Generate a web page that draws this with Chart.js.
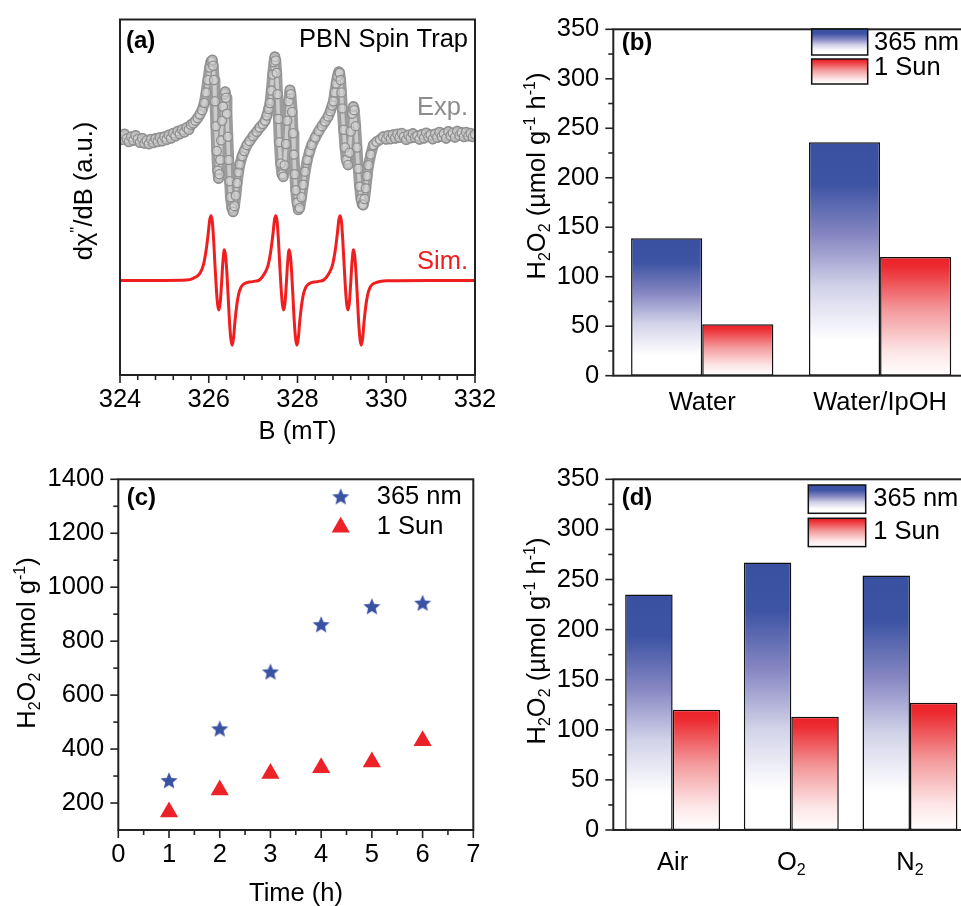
<!DOCTYPE html>
<html><head><meta charset="utf-8">
<script src="https://cdn.jsdelivr.net/npm/chart.js@4.4.0/dist/chart.umd.min.js"></script>
<style>
html,body{margin:0;padding:0;background:#fff;overflow:hidden;width:961px;height:906px;}
#wrap{position:relative;width:961px;height:906px;overflow:hidden;background:#fff;}
canvas{position:absolute;}
</style></head><body>
<div id="wrap">
<canvas id="ca" width="530" height="450" style="left:0;top:0"></canvas>
<canvas id="cc" width="530" height="456" style="left:0;top:450px"></canvas>
<canvas id="cb" width="500" height="450" style="left:480px;top:0"></canvas>
<canvas id="cd" width="500" height="456" style="left:480px;top:450px"></canvas>
</div>
<script>
// ---------------- DATA ----------------
// (a) EPR spectrum, B (mT) vs derivative intensity (a.u.)
const eprExp = [
[324.00,67.3],[324.05,66.2],[324.10,67.8],[324.15,66.5],[324.20,65.6],[324.25,67.0],[324.30,66.0],[324.35,67.4],
[324.40,66.3],[324.45,65.4],[324.50,66.6],[324.55,65.2],[324.60,66.0],[324.65,65.0],[324.70,66.3],[324.75,65.3],
[324.80,66.5],[324.85,65.6],[324.90,66.8],[324.95,65.8],[325.00,67.0],[325.05,66.2],[325.10,67.5],[325.15,66.6],
[325.20,68.0],[325.25,67.2],[325.30,68.6],[325.35,67.8],[325.40,69.0],[325.45,68.3],[325.50,69.6],[325.55,69.0],
[325.60,70.4],[325.65,70.8],[325.70,71.5],[325.75,72.3],[325.80,73.3],[325.85,74.5],[325.90,76.5],[325.94,79.5],
[325.98,83.0],[326.02,86.5],[326.05,88.2],[326.08,88.6],[326.10,87.0],[326.12,83.0],[326.14,77.0],[326.16,70.0],
[326.18,63.0],[326.20,57.5],[326.22,55.3],[326.24,56.5],[326.26,60.5],[326.28,66.0],[326.30,71.5],[326.32,75.5],
[326.35,79.0],[326.37,79.7],[326.39,78.0],[326.41,73.5],[326.43,67.0],[326.45,60.5],[326.47,54.5],[326.49,50.0],
[326.52,47.0],[326.55,45.9],[326.58,47.5],[326.61,50.5],[326.64,54.0],[326.67,57.0],[326.70,59.2],[326.75,61.5],
[326.80,63.0],[326.86,64.7],[326.92,65.8],[327.00,67.2],[327.08,68.4],[327.15,69.6],[327.22,70.6],[327.27,71.5],
[327.31,73.0],[327.35,74.8],[327.38,76.5],[327.41,80.0],[327.44,84.5],[327.47,88.0],[327.49,89.5],[327.51,88.5],
[327.53,85.0],[327.55,79.0],[327.57,72.0],[327.59,65.5],[327.62,59.5],[327.65,56.5],[327.68,55.8],[327.71,59.0],
[327.74,65.0],[327.77,71.5],[327.80,77.0],[327.83,80.2],[327.85,79.0],[327.88,74.0],[327.90,68.0],[327.92,62.0],
[327.94,56.5],[327.96,52.0],[327.99,48.5],[328.02,46.5],[328.05,47.0],[328.09,50.0],[328.13,53.5],[328.17,57.2],
[328.22,60.5],[328.27,62.8],[328.32,64.7],[328.40,66.8],[328.48,68.6],[328.55,70.0],[328.62,71.3],[328.69,72.7],
[328.74,74.2],[328.78,75.8],[328.81,77.0],[328.84,79.5],[328.87,82.0],[328.90,84.0],[328.93,85.3],[328.95,85.0],
[328.97,83.0],[328.99,79.5],[329.01,75.0],[329.04,69.0],[329.07,64.0],[329.10,60.5],[329.14,59.1],[329.17,62.5],
[329.20,68.5],[329.23,73.5],[329.26,75.5],[329.28,74.5],[329.31,70.0],[329.34,64.0],[329.37,58.0],[329.40,53.0],
[329.43,49.5],[329.46,48.0],[329.48,47.8],[329.51,49.5],[329.54,52.5],[329.57,56.0],[329.60,59.0],[329.65,62.0],
[329.71,64.7],[329.78,65.6],[329.86,66.2],[329.93,67.0],[330.00,66.3],[330.05,67.4],[330.10,66.4],[330.15,67.6],
[330.20,66.6],[330.25,67.8],[330.30,66.8],[330.35,68.0],[330.40,67.0],[330.45,66.2],[330.50,67.5],[330.55,66.7],
[330.60,67.9],[330.65,66.8],[330.70,67.3],[330.75,66.3],[330.80,67.7],[330.85,66.6],[330.90,68.1],[330.95,67.0],
[331.00,67.6],[331.05,66.4],[331.10,67.8],[331.15,66.8],[331.20,68.3],[331.25,67.1],[331.30,67.9],[331.35,66.6],
[331.40,68.5],[331.45,67.3],[331.50,68.1],[331.55,66.9],[331.60,68.6],[331.65,67.4],[331.70,68.2],[331.75,67.0],
[331.80,68.3],[331.85,67.2],[331.90,68.0],[331.95,67.0],[332.00,67.7]
];
const eprSim = [
[324.00,26.6],[325.00,26.6],[325.50,26.7],[325.65,27.2],[325.80,28.6],[325.88,31.0],[325.94,35.0],[325.99,40.0],
[326.02,43.5],[326.05,44.8],[326.08,43.2],[326.11,38.0],[326.14,31.0],[326.17,24.5],[326.20,19.8],[326.23,18.3],
[326.26,20.5],[326.29,26.0],[326.32,32.0],[326.35,35.2],[326.38,33.5],[326.41,28.5],[326.44,21.5],[326.47,14.5],
[326.50,10.0],[326.53,8.4],[326.56,10.5],[326.59,15.0],[326.63,19.5],[326.67,22.5],[326.72,24.5],[326.78,25.5],
[326.86,26.0],[326.95,26.2],[327.05,26.4],[327.15,26.8],[327.26,28.6],[327.34,31.0],[327.40,35.0],[327.45,40.0],
[327.48,43.5],[327.51,44.8],[327.54,43.2],[327.57,38.0],[327.60,31.0],[327.63,24.5],[327.66,19.8],[327.69,18.3],
[327.72,20.5],[327.75,26.0],[327.78,32.0],[327.81,35.2],[327.84,33.5],[327.87,28.5],[327.90,21.5],[327.93,14.5],
[327.96,10.0],[327.99,8.4],[328.02,10.5],[328.05,15.0],[328.09,19.5],[328.13,22.5],[328.18,24.5],[328.24,25.5],
[328.32,26.0],[328.41,26.2],[328.50,26.4],[328.60,26.8],[328.71,28.6],[328.79,31.0],[328.85,35.0],[328.90,40.0],
[328.93,43.5],[328.96,44.8],[328.99,43.2],[329.02,38.0],[329.05,31.0],[329.08,24.5],[329.11,19.8],[329.14,18.3],
[329.17,20.5],[329.20,26.0],[329.23,32.0],[329.26,35.2],[329.29,33.5],[329.32,28.5],[329.35,21.5],[329.38,14.5],
[329.41,10.0],[329.44,8.4],[329.47,10.5],[329.50,15.0],[329.54,19.5],[329.58,22.5],[329.63,24.5],[329.69,25.5],
[329.77,26.0],[329.86,26.3],[330.00,26.5],[331.00,26.6],[332.00,26.6]
];
const aTicksX = [324,326,328,330,332];

// series names
const seriesLabels = ['365 nm','1 Sun'];

// (b) solvents
const solventCats = ['Water','Water/IpOH'];
const solvent365 = [139,236];
const solventSun = [52,120];

// (c) time course
const timeH = [1,2,3,4,5,6];
const cum365 = [281,473,684,859,926,939];
const cumSun = [167,248,309,331,352,431];
const cTicksX = [0,1,2,3,4,5,6,7];
const cTicksY = [200,400,600,800,1000,1200,1400];

// (d) atmospheres
const gasCats = ['Air','O_{2}','N_{2}'];
const gas365 = [235,267,254];
const gasSun = [120,113,127];
const barTicksY = [0,50,100,150,200,250,300,350];

// ---------------- STYLE ----------------
const FAM = '"Liberation Sans", Arial, Helvetica, sans-serif';
const FS = 25.5;
Chart.defaults.font.family = FAM;
Chart.defaults.font.size = FS;
Chart.defaults.color = '#000';
Chart.defaults.animation = false;
Chart.defaults.responsive = false;
Chart.defaults.devicePixelRatio = 1;
Chart.defaults.plugins.legend.display = false;
Chart.defaults.plugins.tooltip.enabled = false;

const BLUE = '#3a52a3', RED = '#ec2228';
const blueStops = [[0,'#3a51a2'],[0.18,'#3d54a4'],[0.4,'#8687c2'],[0.62,'#d2d2e9'],[0.85,'#ffffff'],[1,'#ffffff']];
const redStops = [[0,'#ec2228'],[0.08,'#ec2a30'],[0.45,'#f39a9c'],[0.8,'#fde6e7'],[1,'#ffffff']];

function barGrad(stops){
  return (c) => {
    const ch = c.chart;
    if (!ch.chartArea || c.raw == null) return stops[0][1];
    const ys = ch.scales.y;
    const top = ys.getPixelForValue(c.raw), base = ys.getPixelForValue(0);
    const g = ch.ctx.createLinearGradient(0, top, 0, base);
    stops.forEach(s => g.addColorStop(s[0], s[1]));
    return g;
  };
}

function parseRich(str){
  const out=[]; const re=/([_^])\{([^}]*)\}/g; let last=0,m;
  while((m=re.exec(str))){
    if(m.index>last) out.push({t:str.slice(last,m.index),k:0});
    out.push({t:m[2],k:m[1]==='_'?1:2}); last=re.lastIndex;
  }
  if(last<str.length) out.push({t:str.slice(last),k:0});
  return out;
}
function drawRich(ctx, str, x, y, o){
  o = o || {};
  const size=o.size||FS, weight=o.weight||'normal', color=o.color||'#000', align=o.align||'center';
  const segs=parseRich(str);
  const fontFor=k=>`${weight} ${k? Math.round(size*0.62):size}px ${FAM}`;
  let w=0; segs.forEach(s=>{ctx.font=fontFor(s.k); s.w=ctx.measureText(s.t).width; w+=s.w;});
  ctx.save(); ctx.translate(x,y); if(o.rotate) ctx.rotate(o.rotate);
  let cx = align==='left'?0: align==='right'? -w : -w/2;
  ctx.fillStyle=color; ctx.textBaseline='middle'; ctx.textAlign='left';
  segs.forEach(s=>{ ctx.font=fontFor(s.k); const dy = s.k===1? size*0.3 : s.k===2? -size*0.3 : 0; ctx.fillText(s.t, cx, dy); cx+=s.w; });
  ctx.restore();
}

function makeStar(r, color){
  const c=document.createElement('canvas'); const s=Math.ceil(r*2+2); c.width=c.height=s;
  const g=c.getContext('2d'); g.fillStyle=color; g.beginPath();
  for(let i=0;i<10;i++){ const rr = i%2? r*0.45 : r; const a=-Math.PI/2+i*Math.PI/5; g.lineTo(s/2+rr*Math.cos(a), s/2+rr*Math.sin(a)); }
  g.closePath(); g.fill(); return c;
}
const starImg = makeStar(9, BLUE);

function minorBetween(major, n){
  const out=[];
  for(let i=0;i<major.length-1;i++){ const a=major[i], b=major[i+1]; for(let k=1;k<n;k++) out.push(a+(b-a)*k/n); }
  return out;
}

// --------------- decoration plugin -----------------
const decoCfg = {};
const decoPlugin = {
  id:'deco',
  afterDraw(chart){
    const cfg = decoCfg[chart.canvas.id]; if(!cfg) return;
    const ctx = chart.ctx, ca = chart.chartArea;
    const xs = chart.scales.x, ys = chart.scales.y;
    ctx.save();
    ctx.strokeStyle = '#222'; ctx.lineCap='butt';
    const tk = (scale, vals, len, horiz) => {
      vals.forEach(v => {
        const p = scale.getPixelForValue(v);
        ctx.beginPath();
        if (horiz) { ctx.moveTo(p, ca.bottom); ctx.lineTo(p, ca.bottom+len); }
        else { ctx.moveTo(ca.left, p); ctx.lineTo(ca.left-len, p); }
        ctx.stroke();
      });
    };
    ctx.lineWidth = 1.6;
    if (cfg.majorX) tk(xs, cfg.majorX, 8, true);
    if (cfg.minorX) tk(xs, cfg.minorX, 5, true);
    if (cfg.majorY) tk(ys, cfg.majorY, 8, false);
    if (cfg.minorY) tk(ys, cfg.minorY, 5, false);
    ctx.lineWidth = 2;
    ctx.strokeRect(ca.left, ca.top, ca.right-ca.left, ca.bottom-ca.top);
    if (cfg.cats) cfg.cats.labels.forEach((l,i)=>{ drawRich(ctx, l, xs.getPixelForValue(i), cfg.cats.y, {size:FS}); });
    if (cfg.boxes) cfg.boxes.forEach(b => {
      const g = ctx.createLinearGradient(0,b.y,0,b.y+b.h);
      b.stops.forEach(s=>g.addColorStop(s[0],s[1]));
      ctx.fillStyle = g; ctx.fillRect(b.x,b.y,b.w,b.h);
      ctx.strokeStyle='#111'; ctx.lineWidth=1.5; ctx.strokeRect(b.x,b.y,b.w,b.h);
      drawRich(ctx, b.text, b.tx, b.ty, {size:FS, align:'left'});
    });
    if (cfg.markers) cfg.markers.forEach(mk => {
      if (mk.type==='star') ctx.drawImage(starImg, mk.x-starImg.width/2, mk.y-starImg.height/2);
      else {
        ctx.fillStyle = RED; ctx.beginPath();
        const r=10.5; let a=0;
        for(let i=0;i<3;i++){ ctx.lineTo(mk.x+Math.sin(a)*r, mk.y-Math.cos(a)*r); a+=2*Math.PI/3; }
        ctx.closePath(); ctx.fill();
      }
      drawRich(ctx, mk.text, mk.tx, mk.y, {size:FS, align:'left'});
    });
    if (cfg.texts) cfg.texts.forEach(t => drawRich(ctx, t.s, t.x, t.y, t));
    ctx.restore();
  }
};
Chart.register(decoPlugin);

const ROT = -Math.PI/2;
const H2O2rate = 'H_{2}O_{2} (µmol g^{-1} h^{-1})';
const plainNum = v => String(v);

// ---------------- (a) ----------------
decoCfg.ca = {
  majorX: aTicksX, minorX: minorBetween(aTicksX,5),
  texts: [
    {s:'(a)', x:126, y:41.5, size:24, weight:'bold', align:'left'},
    {s:'PBN Spin Trap', x:468, y:39.5, size:FS, align:'right'},
    {s:'Exp.', x:468, y:108, size:FS, align:'right', color:'#8c8c8c'},
    {s:'Sim.', x:468, y:262, size:FS, align:'right', color:'#f01e1e'},
    {s:"dχ^{''}/dB (a.u.)", x:85, y:191, size:FS, rotate:ROT},
    {s:'B (mT)', x:297.5, y:431.5, size:FS}
  ]
};
const toXY = arr => arr.map(p=>({x:p[0], y:p[1]}));
new Chart(document.getElementById('ca'), {
  type:'line',
  data:{ datasets:[
    {label:'Sim.', data:toXY(eprSim), borderColor:'#f01e1e', borderWidth:3, pointRadius:0, cubicInterpolationMode:'monotone', order:1},
    {label:'Exp.', data:toXY(eprExp), borderColor:'#cbcbcb', borderWidth:3.5, borderJoinStyle:'round', pointRadius:4.6, pointBorderColor:'#8e8e8e', pointBackgroundColor:'rgba(214,214,214,0.55)', pointBorderWidth:1.3, order:2},
    {label:'Exp. band', data:toXY(eprExp), borderColor:'#9c9c9c', borderWidth:11, borderJoinStyle:'round', borderCapStyle:'round', pointRadius:0, order:3}
  ]},
  options:{
    layout:{padding:{left:120,right:55,top:19.5,bottom:0}},
    scales:{
      x:{type:'linear', min:324, max:332,
         afterBuildTicks:s=>{s.ticks=aTicksX.map(v=>({value:v}));},
         ticks:{padding:10, maxRotation:0, autoSkip:false, callback:plainNum},
         grid:{display:false, drawTicks:false}, border:{display:false},
         afterFit:s=>{s.height=75;}},
      y:{display:false, min:0, max:100}
    }
  }
});

// ---------------- (b) ----------------
decoCfg.cb = {
  majorY: barTicksY, minorY: minorBetween(barTicksY,2),
  cats:{labels:solventCats, y:403},
  boxes:[
    {x:331.7, y:29, w:56, h:26, stops:blueStops, text:seriesLabels[0], tx:394, ty:42.5},
    {x:331.7, y:59, w:56, h:25, stops:redStops, text:seriesLabels[1], tx:394, ty:68}
  ],
  texts:[
    {s:'(b)', x:141.7, y:43, size:24, weight:'bold', align:'left'},
    {s:H2O2rate, x:58, y:176, size:FS, rotate:ROT}
  ]
};
function barOptions(xH, padR){
  return {
    layout:{padding:{left:0,right:padR,top:0,bottom:0}},
    scales:{
      x:{type:'category', ticks:{display:false}, grid:{display:false, drawTicks:false}, border:{display:false}, afterFit:s=>{s.height=xH;}},
      y:{min:0, max:350, afterBuildTicks:s=>{s.ticks=barTicksY.map(v=>({value:v}));},
         ticks:{padding:14, callback:plainNum}, grid:{display:false, drawTicks:false}, border:{display:false}, afterFit:s=>{s.width=133.3;}}
    }
  };
}
function barDatasets(v365, vSun){
  return [
    {label:seriesLabels[0], data:v365, backgroundColor:barGrad(blueStops), borderColor:'#111', borderWidth:1.5, borderSkipped:false, categoryPercentage:0.8, barPercentage:1},
    {label:seriesLabels[1], data:vSun, backgroundColor:barGrad(redStops), borderColor:'#111', borderWidth:1.5, borderSkipped:false, categoryPercentage:0.8, barPercentage:1}
  ];
}
const optB = barOptions(74.3, 11); optB.layout.padding.top = 20;
new Chart(document.getElementById('cb'), {
  type:'bar',
  data:{ labels:solventCats, datasets:barDatasets(solvent365, solventSun) },
  options:optB
});

// ---------------- (c) ----------------
decoCfg.cc = {
  majorX: cTicksX, minorX: minorBetween(cTicksX,2),
  majorY: cTicksY, minorY: minorBetween(cTicksY,2),
  markers:[
    {type:'star', x:340.7, y:47.3, text:seriesLabels[0], tx:376.7},
    {type:'tri', x:340.7, y:77.3, text:seriesLabels[1], tx:376.7}
  ],
  texts:[
    {s:'(c)', x:126.7, y:48, size:24, weight:'bold', align:'left'},
    {s:'Time (h)', x:296, y:443.5, size:FS},
    {s:'H_{2}O_{2} (µmol g^{-1})', x:28, y:193, size:FS, rotate:ROT}
  ]
};
new Chart(document.getElementById('cc'), {
  type:'scatter',
  data:{ datasets:[
    {label:seriesLabels[0], data:timeH.map((t,i)=>({x:t,y:cum365[i]})), pointStyle:starImg, pointRadius:9},
    {label:seriesLabels[1], data:timeH.map((t,i)=>({x:t,y:cumSun[i]})), pointStyle:'triangle', pointRadius:10.5, pointBackgroundColor:RED, pointBorderColor:RED, pointBorderWidth:0}
  ]},
  options:{
    layout:{padding:{left:0,right:56.7,top:24.3,bottom:0}},
    scales:{
      x:{type:'linear', min:0, max:7, afterBuildTicks:s=>{s.ticks=cTicksX.map(v=>({value:v}));},
         ticks:{padding:10, maxRotation:0, autoSkip:false, callback:plainNum}, grid:{display:false, drawTicks:false}, border:{display:false},
         afterFit:s=>{s.height=76;}},
      y:{type:'linear', min:100, max:1400, afterBuildTicks:s=>{s.ticks=cTicksY.map(v=>({value:v}));},
         ticks:{padding:14, callback:plainNum}, grid:{display:false, drawTicks:false}, border:{display:false},
         afterFit:s=>{s.width=118.3;}}
    }
  }
});

// ---------------- (d) ----------------
decoCfg.cd = {
  majorY: barTicksY, minorY: minorBetween(barTicksY,2),
  cats:{labels:gasCats, y:413},
  boxes:[
    {x:328.3, y:35, w:57.4, h:28.3, stops:blueStops, text:seriesLabels[0], tx:393.3, ty:49.3},
    {x:328.3, y:68.3, w:57.4, h:28.3, stops:redStops, text:seriesLabels[1], tx:393.3, ty:81.7}
  ],
  texts:[
    {s:'(d)', x:141.7, y:48, size:24, weight:'bold', align:'left'},
    {s:H2O2rate, x:58, y:191, size:FS, rotate:ROT}
  ]
};
const optD = barOptions(76, 10.7); optD.layout.padding.top = 24.3;
new Chart(document.getElementById('cd'), {
  type:'bar',
  data:{ labels:gasCats, datasets:barDatasets(gas365, gasSun) },
  options:optD
});
</script>
</body></html>
